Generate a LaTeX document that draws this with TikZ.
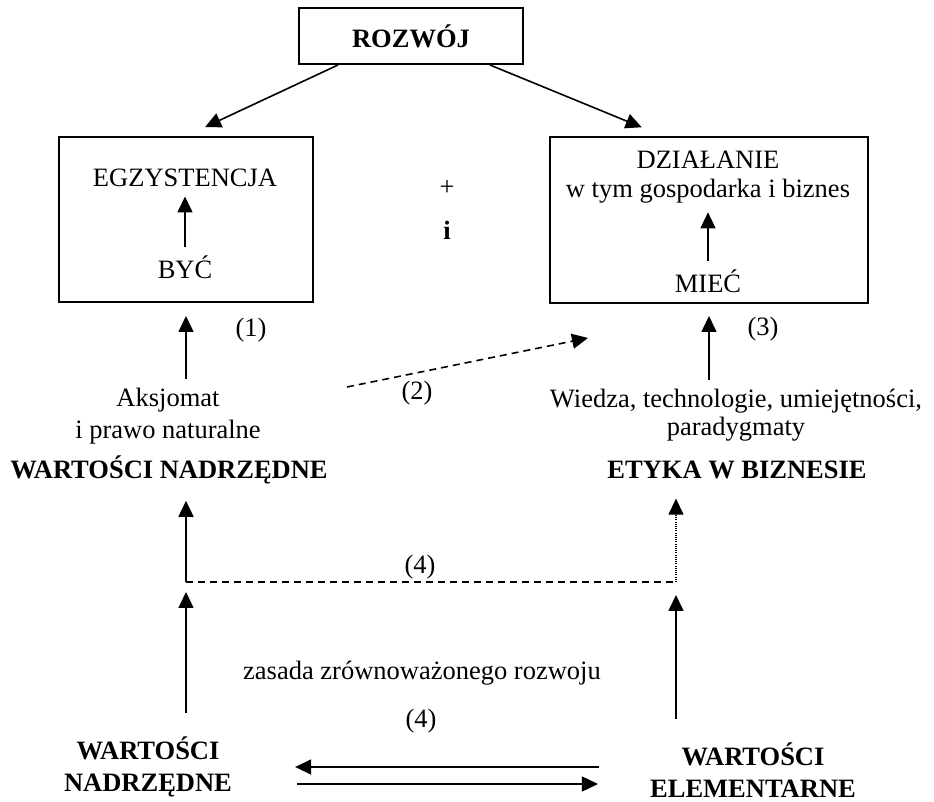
\documentclass[tikz,border=0pt]{standalone}
\usepackage{fontspec}
\setmainfont{Liberation Serif}
\usetikzlibrary{arrows.meta}
\tikzset{
  ramka/.style={draw, line width=1pt, inner sep=0pt},
  strz/.style={-{Triangle[length=8pt,width=7.5pt]}, line width=0.8pt},
  przer/.style={dash pattern=on 3.5pt off 2.5pt},
  kropki/.style={dash pattern=on 0.5pt off 0.6pt, line width=0.6pt},
}
\begin{document}
\fontsize{13.25pt}{16pt}\selectfont
\begin{tikzpicture}[x=0.5pt, y=-0.5pt]
  \useasboundingbox (0,0) rectangle (934,802);
  \def\xL{186} \def\xR{709}
  \def\yKr{582}
  \node[ramka, minimum width=112pt, minimum height=28pt] (rozwoj) at (411,36) {\textbf{ROZWÓJ}};
  \node[ramka, minimum width=127pt, minimum height=82.5pt] (egzbox) at (\xL,219.5) {};
  \node[ramka, minimum width=159pt, minimum height=83pt] (dzbox) at (\xR,220) {};
  \node[anchor=base] (egz) at (185,187) {EGZYSTENCJA};
  \node[anchor=base] (byc) at (185,279) {BYĆ};
  \node[align=center] (dz) at (708,177) {DZIAŁANIE\\[-1.5pt]w tym gospodarka i biznes};
  \node[anchor=base] (miec) at (708,293) {MIEĆ};
  \node (plus) at (447,188) {+};
  \node[anchor=base, font=\bfseries] (lacz) at (447,240) {i};
  \draw[strz, shorten >=10.5pt] ([xshift=-36.5pt]rozwoj.south) -- (egzbox.north);
  \draw[strz, shorten >=11.5pt] ([xshift=39.5pt]rozwoj.south) -- ([xshift=-23pt]dzbox.north);
  \draw[strz] (byc) -- (egz);
  \draw[strz] (miec) -- (dz);
  \node[align=center] (aks) at (168,416) {Aksjomat\\i prawo naturalne};
  \node[align=center] (wied) at (736,415) {Wiedza, technologie, umiejętności,\\[-2pt]paradygmaty};
  \node[anchor=base, font=\bfseries] (wn) at (169,479) {WARTOŚCI NADRZĘDNE};
  \node[anchor=base, font=\bfseries] (etyka) at (737,479) {ETYKA W BIZNESIE};
  \draw[strz, shorten >=6.5pt] (egzbox.south |- aks.north) -- (egzbox.south);
  \draw[strz, shorten >=6pt] (dzbox.south |- wied.north) -- (dzbox.south);
  \node (n1) at (251,330) {(1)};
  \node (n2) at (417,393) {(2)};
  \node (n3) at (763,329) {(3)};
  \coordinate (d2a) at (347,387);
  \coordinate (d2b) at (588,338);
  \draw[strz, przer] (d2a) -- (d2b);
  % petla (4)
  \coordinate (w4l) at (\xL,\yKr);
  \coordinate (w4r) at (676,\yKr);
  \draw[strz, shorten >=3.5pt] (w4l) -- (w4l |- wn.south);
  \draw[przer, line width=0.8pt] (w4l) -- (w4r);
  \draw[strz, kropki, shorten >=5pt] (w4r) -- (w4r |- etyka.south);
  \node (n4a) at (420,567) {(4)};
  \node[align=center, font=\bfseries] (wnb) at (148,767) {WARTOŚCI\\NADRZĘDNE};
  \node[align=center, font=\bfseries] (wel) at (753,770) {WARTOŚCI\\ELEMENTARNE};
  \node (zasada) at (422,673) {zasada zrównoważonego rozwoju};
  \node (n4b) at (421,721) {(4)};
  \draw[strz, shorten <=7.3pt, shorten >=5pt] (w4l |- wnb.north) -- (w4l);
  \draw[strz, shorten <=7.3pt, shorten >=6.5pt] (w4r |- wel.north) -- (w4r);
  \coordinate (h2) at ([yshift=-8.5pt]wnb.east);
  \draw[strz, shorten <=21pt, shorten >=27pt] (wnb.east -| wel.west) -- (wnb.east);
  \draw[strz, shorten <=28pt, shorten >=21.5pt] (h2) -- (h2 -| wel.west);
\end{tikzpicture}
\end{document}
